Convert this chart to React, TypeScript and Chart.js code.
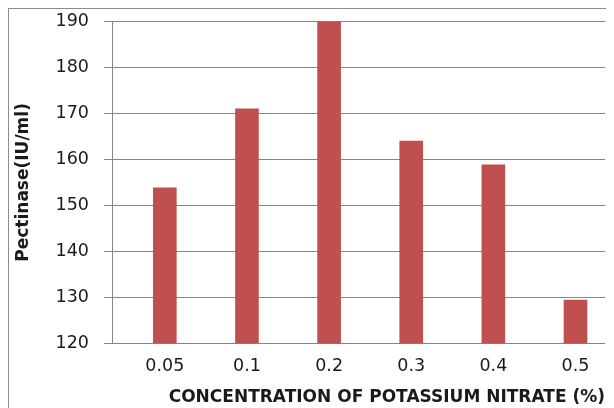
import React, { useEffect, useRef } from "react";
import { Chart, registerables } from "chart.js";

Chart.register(...registerables);

const CATEGORIES = ["0.05", "0.1", "0.2", "0.3", "0.4", "0.5"];
const VALUES = [153.8, 171, 190, 164, 158.8, 129.4];
const Y_MIN = 120;
const Y_MAX = 190;
const Y_STEP = 10;
const X_TITLE = "CONCENTRATION OF POTASSIUM NITRATE (%)";
const Y_TITLE = "Pectinase(IU/ml)";

const FONT = "'DejaVu Sans', sans-serif";
const GRID = "#858585";

export default function App() {
  const ref = useRef<HTMLCanvasElement | null>(null);

  useEffect(() => {
    document.body.style.overflow = "hidden";
    document.documentElement.style.overflow = "hidden";
    const canvas = ref.current;
    if (!canvas) return;
    const chart = new Chart(canvas, {
      type: "bar",
      data: {
        datasets: [
          {
            data: CATEGORIES.map((_, i) => ({ x: i, y: VALUES[i] })),
            backgroundColor: "#C0504D",
            borderWidth: 0,
            barThickness: 23,
          },
        ],
      },
      options: {
        animation: false,
        responsive: false,
        maintainAspectRatio: false,
        layout: { padding: { top: 12.5, right: 9, left: 0, bottom: 0 } },
        plugins: { legend: { display: false }, tooltip: { enabled: false } },
        scales: {
          x: {
            type: "linear",
            offset: false,
            min: -0.643,
            max: 5.359,
            grid: { display: false, drawTicks: false },
            border: { display: false },
            afterBuildTicks: (scale: any) => {
              scale.ticks = CATEGORIES.map((_, i) => ({ value: i }));
            },
            afterFit: (scale: any) => {
              scale.height = 64.7;
              scale.paddingLeft = 0;
              scale.paddingRight = 0;
            },
            ticks: {
              autoSkip: false,
              maxRotation: 0,
              padding: 13,
              color: "#1a1a1a",
              font: { family: FONT, size: 17.5 },
              callback: (v: any) => CATEGORIES[Math.round(Number(v))] ?? "",
            },
            title: {
              display: true,
              text: X_TITLE,
              align: "end",
              color: "#1a1a1a",
              font: { family: FONT, size: 17, weight: "bold" },
              padding: { top: 0, bottom: 0 },
            },
          },
          y: {
            min: Y_MIN,
            max: Y_MAX,
            grid: { color: GRID, lineWidth: 1, tickLength: 8 },
            border: { color: GRID, width: 1 },
            afterFit: (scale: any) => {
              scale.width = 103;
              scale.paddingTop = 0;
              scale.paddingBottom = 0;
            },
            ticks: {
              stepSize: Y_STEP,
              padding: 15,
              color: "#1a1a1a",
              font: { family: FONT, size: 17.5 },
            },
            title: {
              display: true,
              text: Y_TITLE,
              color: "#1a1a1a",
              font: { family: FONT, size: 17, weight: "bold" },
              padding: { top: 4, bottom: 0 },
            },
          },
        },
      },
    });
    return () => chart.destroy();
  }, []);

  return (
    <div style={{ border: "1px solid #8c8c8c", width: 605, height: 399, background: "#fff" }}>
      <canvas ref={ref} width={605} height={399} style={{ display: "block", width: 605, height: 399 }} />
    </div>
  );
}
